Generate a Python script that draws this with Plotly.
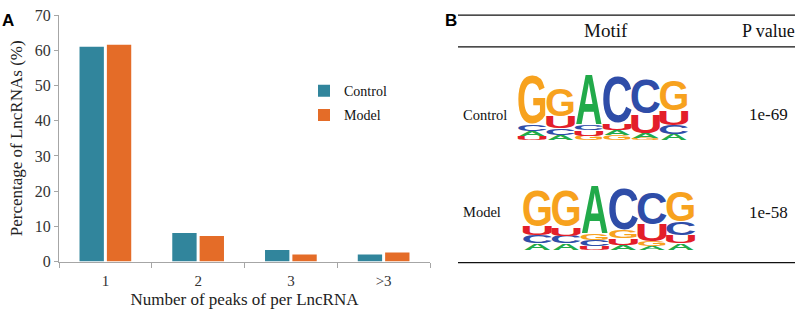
import plotly.graph_objects as go

# ---------------- data ----------------
categories = ['1', '2', '3', '>3']
control_pct = [61.0, 8.1, 3.3, 2.0]
model_pct = [61.6, 7.3, 2.0, 2.6]

logo_positions = [1, 2, 3, 4, 5, 6]
control_A = [0.15, 0.17, 1.49, 0.17, 0.16, 0.18]
control_C = [0.20, 0.20, 0.18, 1.44, 1.07, 0.28]
control_G = [1.52, 0.85, 0.14, 0.15, 0.06, 0.93]
control_U = [0.12, 0.34, 0.16, 0.20, 0.56, 0.42]
model_A = [0.20, 0.20, 1.46, 0.15, 0.11, 0.20]
model_C = [0.24, 0.23, 0.19, 1.27, 0.99, 0.42]
model_G = [1.12, 1.12, 0.21, 0.24, 0.14, 0.93]
model_U = [0.26, 0.25, 0.11, 0.21, 0.51, 0.23]

table_groups = ['Control', 'Model']
p_values = ['1e-69', '1e-58']

# ---------------- styles ----------------
W, H = 800, 316
TEAL = '#31859C'
ORANGE = '#E46C28'
AXIS_GRAY = '#A6A6A6'
SERIF = 'Liberation Serif, Times New Roman, serif'
SANS = 'Liberation Sans, Arial, sans-serif'
LETTER_COLORS = {'A': '#22AA4A', 'C': '#2F4DA8', 'G': '#F7A21E', 'U': '#E31E2A'}


def px(x):
    return x / W


def py(y):
    return 1 - y / H


fig = go.Figure()
fig.add_bar(x=categories, y=control_pct, name='Control', marker_color=TEAL,
            marker_line_width=0, legendgroup='c', xaxis='x', yaxis='y')
fig.add_bar(x=categories, y=model_pct, name='Model', marker_color=ORANGE,
            marker_line_width=0, legendgroup='m', xaxis='x', yaxis='y')

annotations = []

# ---------- sequence logos (letters as text, fitted by post script) ----------
logos = [
    ('x2', 'y2', {'A': control_A, 'C': control_C, 'G': control_G, 'U': control_U}),
    ('x3', 'y3', {'A': model_A, 'C': model_C, 'G': model_G, 'U': model_U}),
]
for xr, yr, mat in logos:
    for k, pos in enumerate(logo_positions):
        col = sorted(((mat[L][k], L) for L in mat), key=lambda t: t[0])
        base = 0.0
        for h, L in col:
            annotations.append(dict(
                x=pos, y=base, xref=xr, yref=yr, text=L, showarrow=False,
                xanchor='center', yanchor='bottom', name='logo|%g' % h,
                font=dict(family=SANS, size=20, color=LETTER_COLORS[L], weight='bold')))
            base += h

# ---------- table texts ----------
annotations += [
    dict(x=px(606), y=py(24), xref='paper', yref='paper', text='Motif', showarrow=False,
         font=dict(family=SERIF, size=19, color='#111111'), xanchor='center', yanchor='middle'),
    dict(x=px(768), y=py(24), xref='paper', yref='paper', text='P value', showarrow=False,
         font=dict(family=SERIF, size=18, color='#111111'), xanchor='center', yanchor='middle'),
]
row_y = [113, 216]
row_x = [485, 482]
for name, pv, yy, xx in zip(table_groups, p_values, row_y, row_x):
    annotations.append(dict(x=px(xx), y=py(yy), xref='paper', yref='paper', text=name,
                            showarrow=False, font=dict(family=SERIF, size=14.5, color='#111111'),
                            xanchor='center', yanchor='middle'))
    annotations.append(dict(x=px(768), y=py(yy), xref='paper', yref='paper', text=pv,
                            showarrow=False, font=dict(family=SERIF, size=17, color='#111111'),
                            xanchor='center', yanchor='middle'))

# panel labels
annotations += [
    dict(x=px(0), y=py(1), xref='paper', yref='paper', text='A', showarrow=False,
         font=dict(family=SANS, size=17, color='black', weight='bold'), xanchor='left', yanchor='top'),
    dict(x=px(443), y=py(1), xref='paper', yref='paper', text='B', showarrow=False,
         font=dict(family=SANS, size=17, color='black', weight='bold'), xanchor='left', yanchor='top'),
]

shapes = []
for yy in [7.5, 41, 269]:
    shapes.append(dict(type='line', xref='paper', yref='paper', x0=px(458), x1=px(795),
                       y0=py(yy), y1=py(yy), line=dict(color='#111111', width=1.3)))

hidden = dict(visible=False, fixedrange=True, showgrid=False, zeroline=False)

fig.update_layout(
    width=W, height=H, autosize=False,
    margin=dict(l=0, r=0, t=0, b=0),
    paper_bgcolor='white', plot_bgcolor='white',
    font=dict(family=SERIF, color='#222222'),
    barmode='group', bargap=0.41, bargroupgap=0.11,
    showlegend=True,
    legend=dict(x=px(304), y=py(71), xanchor='left', yanchor='top',
                font=dict(family=SERIF, size=14, color='#111111'),
                tracegroupgap=3, bgcolor='rgba(0,0,0,0)', itemclick=False, itemdoubleclick=False),
    xaxis=dict(domain=[px(59), px(430)], anchor='y', showline=True, linecolor=AXIS_GRAY,
               linewidth=1, ticks='outside', tickson='boundaries', ticklen=5,
               tickcolor=AXIS_GRAY, showgrid=False, zeroline=False, ticklabelstandoff=5,
               tickfont=dict(family=SERIF, size=15, color='#333333'),
               title=dict(text='Number of peaks of per LncRNA', standoff=5,
                          font=dict(family=SERIF, size=17, color='#222222'))),
    yaxis=dict(domain=[py(268), py(7.5)], anchor='x', range=[0, 70], dtick=10,
               showline=True, linecolor=AXIS_GRAY, linewidth=1, ticks='outside',
               ticklen=4, tickcolor=AXIS_GRAY, showgrid=False, zeroline=False,
               ticklabeloverflow='allow',
               tickfont=dict(family=SERIF, size=16, color='#333333'),
               title=dict(text='Percentage of LncRNAs (%)', standoff=7,
                          font=dict(family=SERIF, size=17, color='#222222'))),
    xaxis2=dict(domain=[px(518), px(688)], range=[0.5, 6.5], anchor='y2', **hidden),
    yaxis2=dict(domain=[py(140), py(69)], range=[0, 2], anchor='x2', **hidden),
    xaxis3=dict(domain=[px(523), px(695)], range=[0.5, 6.5], anchor='y3', **hidden),
    yaxis3=dict(domain=[py(256), py(185)], range=[0, 2], anchor='x3', **hidden),
    annotations=annotations,
    shapes=shapes,
)

post_script = r"""
document.documentElement.style.margin = '0';
document.body.style.margin = '0';
document.body.style.padding = '0';
document.body.style.overflow = 'hidden';
var gd = document.getElementById('{plot_id}');
function fitLogoLetters(){
  var fl = gd._fullLayout;
  var svgEl = gd.querySelector('.main-svg');
  if(!svgEl) return;
  var svg = svgEl.getBoundingClientRect();
  var metrics = {A:[0.0,0.722,0.0,0.716], C:[0.05,0.68,-0.015,0.735],
                 G:[0.045,0.73,-0.015,0.735], U:[0.074,0.648,-0.015,0.716]};
  gd.querySelectorAll('g.annotation').forEach(function(g){
    var i = +g.getAttribute('data-index');
    var a = fl.annotations[i];
    if(!a || typeof a.name !== 'string' || a.name.indexOf('logo|') !== 0) return;
    var h = parseFloat(a.name.split('|')[1]);
    var xa = fl['xaxis' + a.xref.slice(1)];
    var ya = fl['yaxis' + a.yref.slice(1)];
    var el = g.querySelector('text.annotation-text');
    if(!el) return;
    el.removeAttribute('transform');
    var bb = el.getBBox();
    var r = el.getBoundingClientRect();
    var dx = bb.x - (r.left - svg.left), dy = bb.y - (r.top - svg.top);
    var fs = a.font.size;
    var m = metrics[a.text] || [0.05,0.7,0,0.72];
    var base = bb.y + 0.905*fs;
    var ix0 = bb.x + m[0]*fs, ix1 = bb.x + m[1]*fs;
    var iyT = base - m[3]*fs, iyB = base - m[2]*fs;
    var pad = 0.02;
    var tx0 = xa._offset + xa.l2p(a.x - 0.5 + pad) + dx;
    var tx1 = xa._offset + xa.l2p(a.x + 0.5 - pad) + dx;
    var tyB = ya._offset + ya.l2p(a.y) + dy;
    var tyT = ya._offset + ya.l2p(a.y + h) + dy;
    var sx = (tx1 - tx0)/(ix1 - ix0), sy = (tyB - tyT)/(iyB - iyT);
    el.setAttribute('transform', 'translate(' + tx0 + ',' + tyT + ') scale(' + sx + ',' + sy +
                    ') translate(' + (-ix0) + ',' + (-iyT) + ')');
  });
}
fitLogoLetters();
"""

fig.write_html("out.html", include_plotlyjs=True, post_script=post_script,
               config={'responsive': False, 'displayModeBar': False})
